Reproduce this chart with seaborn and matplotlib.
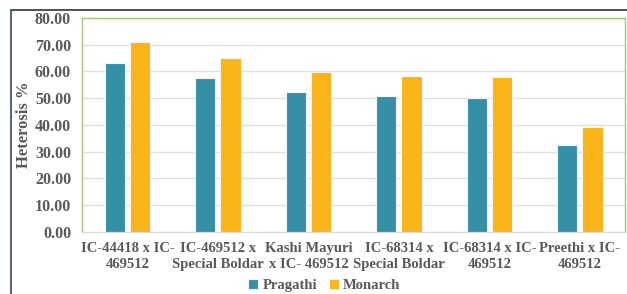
import pandas as pd
import matplotlib
matplotlib.use("Agg")
import matplotlib.pyplot as plt
from matplotlib.lines import Line2D
import seaborn as sns

# data
crosses = ["IC-44418 x IC-\n469512", "IC-469512 x\nSpecial Boldar", "Kashi Mayuri\nx IC- 469512",
           "IC-68314 x\nSpecial Boldar", "IC-68314 x IC-\n469512", "Preethi x IC-\n469512"]
pragathi = [63.0, 57.4, 52.2, 50.7, 50.2, 32.6]
monarch = [71.1, 65.2, 59.9, 58.3, 57.8, 39.4]
series = ["Pragathi", "Monarch"]
colors = ["#3590a6", "#f9b419"]

df = pd.DataFrame({
    "cross": crosses * 2,
    "value": pragathi + monarch,
    "check": [series[0]] * len(crosses) + [series[1]] * len(crosses),
})

sns.set_style("white")
plt.rcParams["font.family"] = ["Liberation Serif", "DejaVu Serif"]
plt.rcParams["font.weight"] = "bold"
txt = "#595959"

fig = plt.figure(figsize=(6.27, 2.94), dpi=100)
ax = fig.add_axes([0.131, 0.211, 0.866, 0.728])

sns.barplot(data=df, x="cross", y="value", hue="check", palette=colors, saturation=1,
            width=0.56, gap=0.2, edgecolor="#f4f4f4", linewidth=0.8, ax=ax)

ax.set_ylim(0, 80)
ax.set_xlim(-0.5, 5.5)
ax.set_yticks(range(0, 81, 10))
ax.set_yticklabels([f"{v:.2f}" for v in range(0, 81, 10)], fontsize=11.5, color=txt, fontweight="bold")
ax.set_xticks(range(len(crosses)))
ax.set_xticklabels(crosses, fontsize=10.5, color=txt, fontweight="bold", linespacing=1.3)
ax.tick_params(axis="y", length=0, pad=8)
ax.tick_params(axis="x", length=0, pad=7)
ax.grid(axis="y", color="#e0e0e0", linewidth=1)
ax.set_axisbelow(True)
ax.set_xlabel("")
ax.set_ylabel("Heterosis %", fontsize=12, color=txt, fontweight="bold")
ax.yaxis.set_label_coords(-0.092, 0.5)

for side in ["left", "top", "right"]:
    ax.spines[side].set_color("#a6c47c")
    ax.spines[side].set_linewidth(1)
ax.spines["bottom"].set_color("#d9d9d9")

leg = ax.legend(loc="lower center", bbox_to_anchor=(0.517, -0.022), bbox_transform=fig.transFigure,
                ncol=2, frameon=False, borderpad=0.1, handlelength=0.7, handleheight=0.7,
                handletextpad=0.3, columnspacing=0.8, prop={"size": 10.5, "weight": "bold"})
for t in leg.get_texts():
    t.set_color(txt)

# outer frame lines of the original figure
fig.add_artist(Line2D([0.018, 1.0], [0.966, 0.966], color="#333333", linewidth=1.2, transform=fig.transFigure))
fig.add_artist(Line2D([0.018, 0.018], [0.0, 0.966], color="#2e4a66", linewidth=1.2, transform=fig.transFigure))

fig.savefig("out.png", dpi=100)
